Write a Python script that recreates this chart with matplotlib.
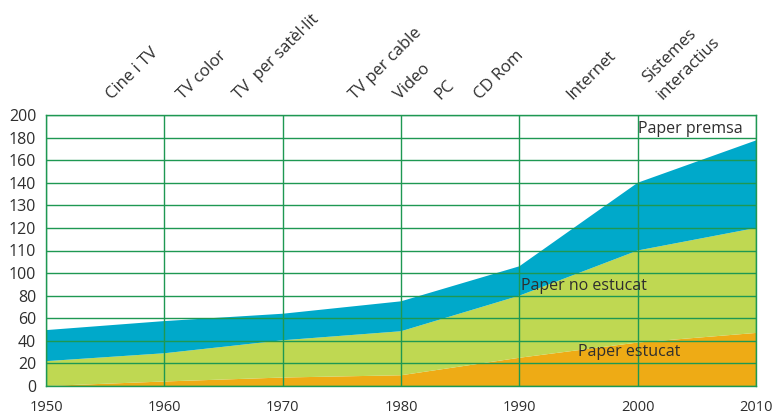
import numpy as np
import matplotlib
matplotlib.use("Agg")
import matplotlib.pyplot as plt

plt.rcParams['font.family'] = ['Open Sans', 'DejaVu Sans']

years = [1950, 1960, 1970, 1980, 1990, 2000, 2010]
paper_estucat = [0, 4, 7.5, 9.5, 25, 38.5, 47]
paper_no_estucat = [22, 25, 33, 39, 55, 71.5, 73]
paper_premsa = [27.5, 28.5, 23.5, 26.5, 23, 30, 57.5]

ytick_vals = [0, 20, 40, 60, 80, 100, 110, 120, 130, 140, 160, 180, 200]
ytick_labels = [str(v) for v in ytick_vals]
xtick_vals = years

media_labels = ["Cine i TV", "TV color", "TV  per satèl·lit", "TV per cable",
                "Video", "PC", "CD Rom", "Internet"]
media_years = [1955.6, 1961.6, 1966.3, 1976.1, 1979.9, 1983.3, 1986.7, 1994.5]

c_orange = "#EEAB15"
c_green = "#BFD852"
c_blue = "#00A9CA"
c_grid = "#1E9852"
c_text = "#2e2e2e"

idx = np.arange(len(ytick_vals), dtype=float)
tv = np.array(ytick_vals, dtype=float)

def fwd(v):
    return np.interp(v, tv, idx)

def inv(p):
    return np.interp(p, idx, tv)

fig = plt.figure(figsize=(7.72, 4.15), dpi=100)
ax = fig.add_axes([46/772, 1-386/415, (756-46)/772, (386-115)/415])
ax.set_yscale('function', functions=(fwd, inv))

ax.stackplot(years, paper_estucat, paper_no_estucat, paper_premsa,
             colors=[c_orange, c_green, c_blue], linewidth=0, zorder=1)

ax.set_xlim(1950, 2010)
ax.set_ylim(0, 200)
ax.set_xticks(xtick_vals)
ax.set_yticks(ytick_vals)
ax.set_yticklabels(ytick_labels)
ax.minorticks_off()
ax.set_axisbelow(False)
ax.grid(True, color=c_grid, linewidth=1.0, zorder=3)
for s in ax.spines.values():
    s.set_color(c_grid)
    s.set_linewidth(1.0)
ax.tick_params(axis='both', length=0, colors=c_text)
ax.tick_params(axis='x', pad=10, labelsize=10.5)
ax.tick_params(axis='y', pad=7, labelsize=11.5)

trans = ax.get_xaxis_transform()
for lab, yr in zip(media_labels, media_years):
    ax.text(yr, 1.055, lab, transform=trans, rotation=45, rotation_mode='anchor',
            ha='left', va='baseline', fontsize=12, color=c_text, clip_on=False)

# two-line label "Sistemes / interactius"
ax.text(2002.1, 1.055, "interactius", transform=trans, rotation=45, rotation_mode='anchor',
        ha='left', va='baseline', fontsize=12, color=c_text, clip_on=False)
ax.text(2000.9, 1.118, "Sistemes", transform=trans, rotation=45, rotation_mode='anchor',
        ha='left', va='baseline', fontsize=12, color=c_text, clip_on=False)

ax.text(2000.0, 188, "Paper premsa", fontsize=11.5, color=c_text, ha='left', va='center')
ax.text(1990.1, 89, "Paper no estucat", fontsize=11.5, color=c_text, ha='left', va='center')
ax.text(1994.95, 30, "Paper estucat", fontsize=11.5, color=c_text, ha='left', va='center')

fig.savefig("out.png", dpi=100)
